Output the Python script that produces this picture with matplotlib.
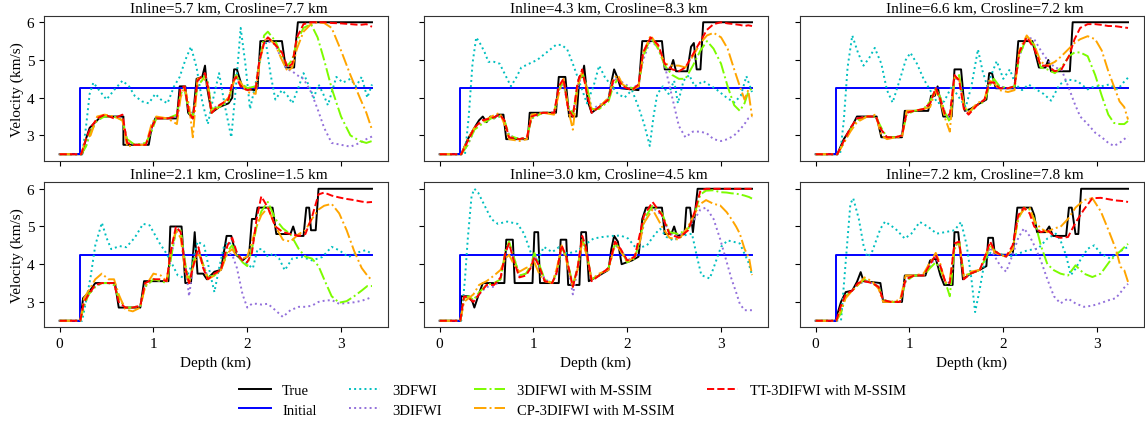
import matplotlib.pyplot as plt

plt.rcParams['font.family'] = ['Liberation Serif', 'DejaVu Serif']
plt.rcParams['font.size'] = 11
plt.rcParams['mathtext.fontset'] = 'stix'

titles = ['Inline=5.7 km, Crosline=7.7 km', 'Inline=4.3 km, Crosline=8.3 km',
          'Inline=6.6 km, Crosline=7.2 km', 'Inline=2.1 km, Crosline=1.5 km',
          'Inline=3.0 km, Crosline=4.5 km', 'Inline=7.2 km, Crosline=7.8 km']

# modelo inicial (igual en todas las trazas)
init_z = [0.0, 0.22, 0.22, 3.33]
init_v = [2.5, 2.5, 4.25, 4.25]

# ---------------- traza 1 ----------------
tz1 = [0, 0.24, 0.28, 0.32, 0.36, 0.42, 0.46, 0.68, 0.68, 0.95, 0.98, 1.02, 1.25, 1.28, 1.34, 1.37,
       1.42, 1.46, 1.52, 1.55, 1.57, 1.62, 1.70, 1.80, 1.84, 1.86, 1.89, 1.95, 2.08, 2.11, 2.14,
       2.37, 2.41, 2.50, 2.52, 2.54, 3.33]
tv1 = [2.5, 2.5, 2.9, 3.2, 3.3, 3.45, 3.5, 3.5, 2.75, 2.75, 3.2, 3.45, 3.45, 4.3, 4.3, 3.6,
       3.45, 4.5, 4.55, 4.85, 4.3, 3.6, 3.75, 3.85, 4.0, 4.75, 4.75, 4.25, 4.2, 4.25, 5.5,
       5.5, 4.8, 4.8, 5.5, 6.0, 6.0]
fz1 = [0, 0.24, 0.28, 0.32, 0.36, 0.42, 0.50, 0.58, 0.67, 0.74, 0.80, 0.88, 0.95, 1.02, 1.08,
       1.15, 1.22, 1.28, 1.34, 1.40, 1.46, 1.52, 1.58, 1.63, 1.70, 1.76, 1.83, 1.88, 1.93, 1.98,
       2.03, 2.10, 2.15, 2.20, 2.25, 2.30, 2.37, 2.43, 2.48, 2.55, 2.60, 2.66, 2.71, 2.76, 2.81,
       2.86, 2.95, 3.02, 3.10, 3.16, 3.22, 3.28, 3.33]
fwi1 = [2.5, 2.5, 3.2, 4.1, 4.4, 4.2, 3.95, 4.2, 4.45, 4.3, 4.05, 3.9, 3.85, 4.1, 3.95,
        3.85, 4.3, 4.55, 5.0, 5.35, 4.8, 3.9, 3.3, 3.9, 4.65, 3.8, 2.95, 4.3, 5.85, 4.9,
        3.7, 4.5, 5.3, 5.45, 4.6, 3.95, 4.2, 4.05, 3.85, 4.3, 4.65, 4.3, 4.0, 4.35, 4.1,
        3.8, 4.55, 4.4, 4.5, 4.3, 4.55, 4.0, 4.35]
z1 = [0.00, 0.23, 0.28, 0.33, 0.40, 0.48, 0.58, 0.67, 0.72, 0.80, 0.92, 0.98, 1.03, 1.15, 1.25,
      1.29, 1.33, 1.38, 1.42, 1.47, 1.53, 1.55, 1.58, 1.62, 1.70, 1.80, 1.84, 1.88, 1.93, 2.00,
      2.09, 2.13, 2.18, 2.22, 2.30, 2.37, 2.43, 2.48, 2.53, 2.60, 2.68, 2.75, 2.82, 2.90, 3.00,
      3.10, 3.20, 3.27, 3.33]
tt1 = [2.5, 2.5, 2.9, 3.2, 3.45, 3.55, 3.45, 3.55, 2.8, 2.75, 2.75, 3.2, 3.45, 3.45, 3.5,
       4.25, 4.3, 3.6, 3.45, 4.45, 4.6, 4.65, 4.3, 3.6, 3.8, 3.95, 4.4, 4.55, 4.3, 4.2,
       4.25, 5.0, 5.45, 5.6, 5.4, 5.2, 4.8, 4.9, 5.6, 5.95, 6.0, 6.0, 6.0, 5.98, 5.97,
       5.95, 5.93, 5.95, 5.88]
ms1 = [2.5, 2.5, 2.7, 3.1, 3.4, 3.5, 3.5, 3.4, 2.9, 2.75, 2.8, 3.1, 3.45, 3.45, 3.55,
       4.1, 4.25, 3.6, 3.5, 4.3, 4.5, 4.6, 4.4, 3.7, 3.75, 3.9, 4.3, 4.6, 4.4, 4.25,
       4.3, 4.9, 5.65, 5.75, 5.5, 5.1, 4.85, 5.0, 5.5, 5.85, 5.95, 5.6, 5.0, 4.25, 3.5,
       3.0, 2.85, 2.8, 2.85]
cp1 = [2.5, 2.5, 2.9, 3.0, 3.5, 3.55, 3.5, 3.4, 2.7, 2.75, 2.75, 3.3, 3.5, 3.45, 3.3,
       4.0, 4.3, 3.8, 2.95, 4.5, 4.55, 4.45, 4.3, 3.6, 3.75, 4.0, 4.3, 4.6, 4.4, 4.15,
       4.1, 4.9, 5.5, 5.6, 5.4, 5.0, 4.7, 4.8, 5.3, 5.75, 5.95, 6.0, 5.98, 5.85, 5.25,
       4.6, 4.0, 3.6, 3.15]
ifwi1 = [2.5, 2.5, 2.7, 3.1, 3.4, 3.5, 3.5, 3.45, 2.85, 2.75, 2.75, 3.2, 3.45, 3.45, 3.5,
         4.1, 4.25, 3.7, 3.5, 4.3, 4.5, 4.6, 4.4, 3.7, 3.8, 3.9, 4.3, 4.6, 4.35, 4.25,
         4.3, 4.9, 5.45, 5.5, 5.4, 5.0, 4.75, 4.7, 4.6, 4.5, 4.15, 3.7, 3.2, 2.8, 2.75,
         2.7, 2.8, 2.9, 2.97]

# ---------------- traza 2 ----------------
tz2 = [0, 0.23, 0.30, 0.37, 0.42, 0.46, 0.50, 0.54, 0.58, 0.62, 0.68, 0.71, 0.94, 0.96, 1.24,
       1.27, 1.34, 1.38, 1.46, 1.49, 1.52, 1.54, 1.58, 1.62, 1.70, 1.80, 1.83, 1.86, 1.90, 1.93,
       2.12, 2.16, 2.37, 2.40, 2.46, 2.49, 2.52, 2.64, 2.68, 2.71, 2.74, 2.78, 2.81, 3.33]
tv2 = [2.5, 2.5, 2.9, 3.2, 3.4, 3.5, 3.35, 3.5, 3.45, 3.55, 3.55, 2.9, 2.9, 3.6, 3.6,
       4.55, 4.55, 3.5, 3.5, 4.55, 4.55, 4.85, 3.9, 3.6, 3.75, 3.95, 4.4, 4.75, 4.5, 4.25,
       4.2, 5.5, 5.5, 4.75, 4.75, 5.0, 4.7, 4.7, 5.35, 5.45, 4.75, 4.75, 6.0, 6.0]
fz2 = [0, 0.27, 0.31, 0.35, 0.39, 0.44, 0.48, 0.52, 0.58, 0.64, 0.70, 0.76, 0.82, 0.87, 0.97,
       1.04, 1.14, 1.24, 1.30, 1.36, 1.42, 1.47, 1.52, 1.57, 1.64, 1.70, 1.76, 1.82, 1.90, 1.97,
       2.05, 2.12, 2.18, 2.24, 2.28, 2.32, 2.38, 2.44, 2.50, 2.54, 2.60, 2.66, 2.72, 2.81, 2.95,
       3.06, 3.14, 3.21, 3.27, 3.33]
fwi2 = [2.5, 2.5, 3.5, 4.9, 5.6, 5.4, 5.2, 4.95, 4.95, 4.9, 4.6, 4.3, 4.55, 4.8, 4.92,
        5.0, 5.2, 5.4, 5.4, 5.28, 4.9, 4.55, 4.2, 3.85, 4.3, 4.85, 4.55, 4.35, 4.1, 4.0,
        4.2, 3.75, 3.3, 2.72, 3.5, 4.1, 4.3, 4.1, 4.45, 3.85, 4.45, 4.6, 4.3, 4.44, 4.22,
        4.0, 3.87, 4.05, 4.57, 4.15]
z2 = [0.00, 0.23, 0.30, 0.37, 0.45, 0.55, 0.64, 0.69, 0.74, 0.85, 0.93, 0.98, 1.10, 1.22, 1.27,
      1.32, 1.37, 1.42, 1.47, 1.52, 1.57, 1.62, 1.70, 1.80, 1.85, 1.90, 1.95, 2.05, 2.12, 2.17,
      2.25, 2.33, 2.40, 2.48, 2.55, 2.62, 2.70, 2.78, 2.85, 2.92, 3.00, 3.07, 3.14, 3.20, 3.25,
      3.29, 3.33]
tt2 = [2.5, 2.5, 2.85, 3.2, 3.4, 3.45, 3.55, 3.4, 2.95, 2.9, 2.95, 3.5, 3.6, 3.6, 4.3,
       4.5, 3.7, 3.5, 4.4, 4.75, 4.1, 3.6, 3.75, 3.95, 4.45, 4.5, 4.3, 4.2, 4.35, 5.2,
       5.6, 5.4, 4.9, 4.75, 4.7, 4.8, 5.15, 5.5, 5.8, 5.95, 6.0, 5.97, 5.95, 5.93, 5.9,
       5.92, 5.9]
ms2 = [2.5, 2.5, 2.75, 3.15, 3.3, 3.45, 3.5, 3.4, 3.0, 2.9, 2.95, 3.45, 3.6, 3.6, 4.2,
       4.45, 3.8, 3.55, 4.3, 4.65, 4.3, 3.7, 3.7, 3.9, 4.3, 4.5, 4.35, 4.25, 4.3, 5.1,
       5.6, 5.3, 4.85, 4.6, 4.5, 4.5, 4.85, 5.25, 5.5, 5.3, 4.9, 4.3, 3.8, 3.65, 3.85,
       4.15, 4.25]
cp2 = [2.5, 2.5, 2.9, 3.2, 3.35, 3.5, 3.6, 3.3, 2.9, 2.85, 2.9, 3.55, 3.6, 3.55, 4.1,
       4.5, 3.7, 3.15, 4.3, 4.7, 4.2, 3.65, 3.75, 4.0, 4.5, 4.6, 4.35, 4.2, 4.3, 5.2,
       5.65, 5.35, 4.9, 4.85, 4.85, 4.8, 5.1, 5.45, 5.65, 5.72, 5.6, 5.3, 4.75, 4.3, 3.95,
       4.2, 3.5]
ifwi2 = [2.5, 2.5, 2.75, 3.15, 3.35, 3.45, 3.5, 3.4, 3.0, 2.9, 2.95, 3.45, 3.6, 3.6, 4.2,
         4.4, 3.7, 3.55, 4.3, 4.6, 4.3, 3.7, 3.8, 3.95, 4.4, 4.55, 4.4, 4.25, 4.35, 5.0,
         5.55, 5.3, 4.85, 4.0, 3.25, 2.95, 3.1, 3.1, 3.05, 2.9, 2.85, 2.9, 3.0, 3.15, 3.3,
         3.45, 3.5]

# ---------------- traza 3 ----------------
tz3 = [0, 0.23, 0.30, 0.39, 0.44, 0.65, 0.70, 0.92, 0.95, 1.20, 1.23, 1.27, 1.30, 1.36, 1.45,
       1.48, 1.55, 1.59, 1.65, 1.75, 1.82, 1.85, 1.88, 1.92, 2.12, 2.16, 2.31, 2.38, 2.45, 2.48,
       2.51, 2.71, 2.74, 3.33]
tv3 = [2.5, 2.5, 2.9, 3.25, 3.5, 3.5, 2.95, 2.95, 3.65, 3.65, 4.05, 4.05, 4.3, 3.5, 3.5,
       4.75, 4.75, 3.65, 3.7, 3.85, 3.95, 4.65, 4.65, 4.25, 4.25, 5.5, 5.5, 4.8, 4.8, 5.0,
       4.7, 4.7, 6.0, 6.0]
fz3 = [0, 0.26, 0.30, 0.34, 0.39, 0.45, 0.51, 0.57, 0.63, 0.70, 0.76, 0.82, 0.90, 0.96, 1.01,
       1.08, 1.15, 1.22, 1.30, 1.37, 1.45, 1.53, 1.60, 1.66, 1.73, 1.78, 1.83, 1.88, 1.93, 2.00,
       2.07, 2.13, 2.20, 2.27, 2.35, 2.43, 2.51, 2.60, 2.69, 2.79, 2.90, 2.97, 3.04, 3.13, 3.22,
       3.28, 3.33]
fwi3 = [2.5, 2.5, 3.4, 4.8, 5.65, 5.2, 4.85, 5.05, 5.32, 4.9, 4.2, 3.87, 4.5, 5.0, 5.19,
        4.9, 4.5, 4.2, 3.85, 3.9, 4.3, 4.0, 3.75, 4.3, 5.28, 4.7, 4.3, 4.65, 4.97, 4.5,
        4.75, 4.35, 4.2, 4.35, 4.22, 4.1, 3.92, 4.35, 4.48, 4.44, 4.22, 4.3, 4.3, 4.35, 4.22,
        4.4, 4.53]
z3 = [0.00, 0.23, 0.30, 0.37, 0.44, 0.55, 0.64, 0.70, 0.76, 0.85, 0.92, 0.97, 1.05, 1.15, 1.22,
      1.28, 1.33, 1.38, 1.43, 1.48, 1.53, 1.58, 1.63, 1.72, 1.80, 1.85, 1.90, 1.96, 2.05, 2.12,
      2.17, 2.25, 2.33, 2.40, 2.47, 2.55, 2.62, 2.70, 2.76, 2.82, 2.90, 2.98, 3.05, 3.12, 3.18,
      3.24, 3.29, 3.33]
tt3 = [2.5, 2.5, 2.85, 3.2, 3.45, 3.5, 3.5, 3.15, 2.95, 2.95, 3.0, 3.6, 3.65, 3.7, 3.85,
       4.25, 3.95, 3.55, 3.55, 4.6, 4.45, 3.7, 3.55, 3.8, 3.95, 4.4, 4.4, 4.25, 4.25, 4.3,
       5.2, 5.6, 5.3, 4.85, 4.85, 4.7, 4.75, 5.1, 5.55, 5.85, 5.95, 5.95, 5.93, 5.9, 5.9,
       5.88, 5.86, 5.85]
ms3 = [2.5, 2.5, 2.8, 3.15, 3.4, 3.5, 3.5, 3.2, 2.95, 2.95, 3.0, 3.55, 3.65, 3.7, 3.9,
       4.25, 4.0, 3.6, 3.35, 4.5, 4.6, 3.8, 3.6, 3.8, 3.9, 4.3, 4.5, 4.3, 4.25, 4.3,
       5.1, 5.6, 5.4, 4.8, 4.75, 4.65, 4.8, 5.1, 5.2, 5.2, 5.1, 4.6, 4.05, 3.55, 3.33,
       3.3, 3.3, 3.38]
cp3 = [2.5, 2.5, 2.8, 3.1, 3.35, 3.5, 3.55, 3.0, 2.9, 2.95, 2.95, 3.65, 3.65, 3.7, 3.75,
       4.2, 3.9, 3.45, 3.1, 4.55, 4.5, 3.8, 3.6, 3.85, 3.95, 4.45, 4.4, 4.2, 4.15, 4.2,
       5.25, 5.65, 5.4, 4.95, 4.85, 4.95, 5.1, 5.3, 5.45, 5.55, 5.63, 5.55, 5.25, 4.7, 4.3,
       3.9, 3.75, 3.42]
ifwi3 = [2.5, 2.5, 2.8, 3.15, 3.45, 3.5, 3.5, 3.15, 2.95, 2.95, 3.0, 3.6, 3.65, 3.7, 3.85,
         4.25, 4.0, 3.55, 3.5, 4.5, 4.5, 3.75, 3.6, 3.8, 3.95, 4.35, 4.45, 4.3, 4.25, 4.3,
         5.1, 5.6, 5.55, 5.25, 5.0, 4.8, 4.75, 4.25, 3.85, 3.5, 3.3, 3.07, 2.95, 2.8, 2.72,
         2.8, 2.9, 2.98]

# ---------------- traza 4 ----------------
tz4 = [0, 0.22, 0.25, 0.31, 0.38, 0.59, 0.63, 0.86, 0.90, 1.16, 1.18, 1.30, 1.34, 1.40, 1.44,
       1.47, 1.53, 1.57, 1.65, 1.72, 1.78, 1.83, 1.88, 1.95, 2.02, 2.05, 2.09, 2.11, 2.27, 2.31,
       2.46, 2.49, 2.52, 2.60, 2.63, 2.66, 2.68, 2.73, 2.76, 3.33]
tv4 = [2.5, 2.5, 3.1, 3.25, 3.5, 3.5, 2.85, 2.85, 3.55, 3.55, 5.0, 5.0, 3.5, 3.5, 4.85,
       3.75, 3.75, 3.6, 3.8, 3.85, 4.75, 4.75, 4.25, 4.1, 4.25, 5.2, 5.2, 5.5, 5.5, 4.8,
       4.8, 5.0, 4.75, 4.75, 5.5, 5.5, 4.9, 4.9, 6.0, 6.0]
fz4 = [0, 0.24, 0.28, 0.33, 0.38, 0.45, 0.50, 0.55, 0.64, 0.71, 0.80, 0.89, 0.96, 1.07, 1.14,
       1.20, 1.26, 1.35, 1.41, 1.47, 1.54, 1.60, 1.65, 1.70, 1.75, 1.80, 1.88, 1.95, 2.06, 2.11,
       2.16, 2.22, 2.28, 2.34, 2.40, 2.48, 2.59, 2.69, 2.80, 2.90, 2.98, 3.08, 3.19, 3.26, 3.33]
fwi4 = [2.5, 2.5, 3.0, 3.66, 4.5, 5.1, 4.7, 4.4, 4.48, 4.45, 4.7, 5.07, 5.03, 4.54, 4.28,
        4.0, 3.7, 3.62, 4.0, 4.6, 4.5, 3.8, 3.26, 3.9, 4.45, 4.6, 4.35, 4.1, 3.89, 4.4,
        4.4, 4.2, 4.28, 4.15, 3.84, 4.15, 4.19, 4.1, 4.19, 4.46, 4.37, 4.19, 4.32, 4.37, 4.28]
z4 = [0.00, 0.22, 0.26, 0.31, 0.38, 0.45, 0.52, 0.58, 0.63, 0.70, 0.78, 0.86, 0.91, 1.00, 1.08,
      1.14, 1.19, 1.24, 1.29, 1.34, 1.38, 1.43, 1.48, 1.53, 1.58, 1.65, 1.72, 1.79, 1.84, 1.89,
      1.95, 2.00, 2.05, 2.10, 2.15, 2.22, 2.30, 2.38, 2.46, 2.55, 2.62, 2.69, 2.76, 2.82, 2.90,
      2.98, 3.06, 3.14, 3.22, 3.28, 3.33]
tt4 = [2.5, 2.5, 3.0, 3.2, 3.45, 3.5, 3.5, 3.5, 3.0, 2.85, 2.85, 2.9, 3.5, 3.6, 3.6,
       3.55, 4.4, 5.0, 4.85, 3.9, 3.5, 4.0, 4.45, 3.9, 3.6, 3.75, 3.85, 4.5, 4.7, 4.3,
       4.1, 4.05, 4.3, 5.2, 5.8, 5.5, 5.0, 4.85, 4.8, 4.75, 4.8, 5.25, 5.85, 5.9, 5.82,
       5.77, 5.73, 5.7, 5.66, 5.64, 5.65]
ms4 = [2.5, 2.5, 2.9, 3.2, 3.4, 3.5, 3.5, 3.45, 3.1, 2.85, 2.85, 2.9, 3.4, 3.6, 3.55,
       3.5, 4.2, 4.9, 4.9, 4.0, 3.55, 4.1, 4.35, 4.0, 3.65, 3.7, 3.85, 4.35, 4.5, 4.25,
       4.05, 3.95, 4.4, 5.0, 5.4, 5.65, 5.2, 4.95, 4.8, 4.4, 4.2, 4.15, 3.95, 3.6, 3.15,
       2.98, 3.02, 3.15, 3.3, 3.42, 3.42]
cp4 = [2.5, 2.5, 3.1, 3.3, 3.6, 3.75, 3.6, 3.6, 3.2, 2.8, 2.75, 2.85, 3.4, 3.75, 3.7,
       3.55, 4.45, 4.9, 4.7, 3.8, 3.5, 4.0, 4.3, 3.95, 3.6, 3.7, 3.85, 4.3, 4.4, 4.2,
       4.15, 4.2, 4.6, 5.0, 5.3, 5.5, 5.0, 4.65, 4.6, 4.8, 4.9, 5.2, 5.45, 5.55, 5.6,
       5.35, 4.9, 4.35, 3.9, 3.7, 3.57]
ifwi4 = [2.5, 2.5, 2.9, 3.2, 3.4, 3.5, 3.5, 3.45, 3.1, 2.85, 2.85, 2.9, 3.4, 3.6, 3.55,
         3.55, 4.2, 4.9, 4.9, 4.0, 3.15, 4.1, 4.35, 4.0, 3.65, 3.7, 3.85, 4.3, 4.25, 3.9,
         3.2, 2.85, 2.95, 2.95, 2.93, 2.95, 2.78, 2.6, 2.78, 2.87, 2.87, 2.9, 3.0, 3.03, 3.05,
         2.95, 2.97, 2.99, 3.03, 3.08, 3.13]

# ---------------- traza 5 ----------------
tz5 = [0, 0.22, 0.23, 0.31, 0.35, 0.37, 0.41, 0.46, 0.69, 0.71, 0.78, 0.80, 0.99, 1.01, 1.05,
       1.07, 1.27, 1.29, 1.35, 1.37, 1.49, 1.51, 1.56, 1.59, 1.70, 1.80, 1.83, 1.86, 1.90, 1.94,
       2.05, 2.12, 2.16, 2.20, 2.37, 2.40, 2.47, 2.50, 2.53, 2.61, 2.63, 2.67, 2.70, 2.75, 3.33]
tv5 = [2.5, 2.5, 3.15, 3.15, 3.0, 2.85, 3.15, 3.5, 3.5, 4.65, 4.65, 3.5, 3.5, 4.85, 4.85,
       3.5, 3.5, 4.65, 4.65, 3.45, 3.45, 4.85, 4.85, 3.55, 3.7, 3.85, 4.4, 4.75, 4.6, 4.0,
       4.1, 4.2, 5.2, 5.5, 5.5, 4.8, 4.8, 5.0, 4.75, 4.8, 5.5, 5.5, 4.85, 6.0, 6.0]
fz5 = [0, 0.23, 0.27, 0.30, 0.34, 0.37, 0.41, 0.46, 0.55, 0.62, 0.72, 0.83, 0.90, 0.97, 1.04,
       1.11, 1.20, 1.27, 1.36, 1.47, 1.54, 1.64, 1.73, 1.84, 1.93, 2.01, 2.10, 2.21, 2.30, 2.35,
       2.42, 2.49, 2.60, 2.69, 2.74, 2.79, 2.88, 2.93, 3.00, 3.07, 3.14, 3.20, 3.29, 3.33]
fwi5 = [2.5, 2.5, 3.62, 4.68, 5.8, 6.0, 5.9, 5.65, 5.2, 5.07, 5.13, 5.07, 4.81, 4.32, 4.06,
        4.46, 4.32, 4.45, 4.28, 4.35, 4.5, 4.68, 4.72, 4.75, 4.76, 4.68, 4.41, 4.5, 4.81, 4.94,
        4.72, 4.63, 4.76, 4.81, 4.23, 3.71, 3.62, 3.97, 4.46, 4.63, 4.59, 4.55, 4.06, 3.71]
z5 = [0.00, 0.22, 0.26, 0.31, 0.36, 0.42, 0.50, 0.58, 0.65, 0.70, 0.74, 0.79, 0.85, 0.92, 0.97,
      1.01, 1.06, 1.12, 1.20, 1.25, 1.30, 1.35, 1.42, 1.47, 1.52, 1.56, 1.62, 1.70, 1.80, 1.87,
      1.93, 2.00, 2.08, 2.13, 2.18, 2.27, 2.37, 2.45, 2.55, 2.65, 2.72, 2.78, 2.84, 2.92, 2.99,
      3.06, 3.11, 3.16, 3.20, 3.25, 3.30, 3.33]
tt5 = [2.5, 2.5, 3.15, 3.1, 3.0, 3.2, 3.45, 3.45, 3.65, 4.3, 4.55, 4.1, 3.65, 3.7, 3.9,
       4.2, 3.95, 3.55, 3.5, 3.8, 4.5, 4.2, 3.4, 3.9, 4.75, 4.45, 3.55, 3.7, 3.9, 4.6,
       4.4, 4.1, 4.2, 4.75, 5.3, 5.65, 5.3, 4.8, 4.7, 4.9, 5.4, 5.95, 6.0, 6.0, 6.0,
       6.0, 6.0, 6.0, 6.0, 6.0, 6.0, 6.0]
ms5 = [2.5, 2.5, 3.1, 3.15, 3.05, 3.25, 3.45, 3.5, 3.6, 4.35, 4.6, 4.2, 3.7, 3.75, 3.95,
       4.3, 4.0, 3.6, 3.5, 3.8, 4.45, 4.2, 3.45, 3.9, 4.65, 4.4, 3.6, 3.7, 3.9, 4.55,
       4.4, 4.05, 4.15, 4.6, 5.2, 5.55, 5.35, 4.85, 4.8, 4.95, 5.35, 5.85, 5.95, 5.96, 5.91,
       5.9, 5.88, 5.87, 5.85, 5.82, 5.78, 5.74]
cp5 = [2.5, 2.5, 3.0, 3.1, 3.2, 3.45, 3.55, 3.7, 3.85, 4.15, 4.25, 4.0, 3.8, 3.9, 3.95,
       4.05, 3.75, 3.55, 3.5, 3.9, 4.5, 4.1, 3.4, 3.85, 4.6, 4.3, 3.6, 3.75, 3.85, 4.55,
       4.35, 4.05, 4.2, 4.55, 5.1, 5.45, 5.0, 4.7, 4.65, 5.0, 5.35, 5.6, 5.7, 5.6, 5.56,
       5.38, 5.2, 5.0, 4.81, 4.41, 4.15, 3.71]
ifwi5 = [2.5, 2.5, 3.1, 3.1, 3.05, 3.2, 3.4, 3.4, 3.6, 4.3, 4.55, 4.2, 3.7, 3.75, 3.9,
         4.25, 3.95, 3.6, 3.5, 3.75, 4.4, 4.2, 3.2, 3.85, 4.6, 4.4, 3.6, 3.7, 3.9, 4.5,
         4.4, 4.1, 4.2, 4.5, 5.1, 5.5, 5.3, 4.8, 4.75, 4.95, 5.2, 5.45, 5.5, 5.2, 4.67,
         4.06, 3.62, 3.26, 2.95, 2.78, 2.78, 2.78]

# ---------------- traza 6 ----------------
tz6 = [0, 0.21, 0.27, 0.32, 0.39, 0.44, 0.48, 0.51, 0.69, 0.72, 0.92, 0.95, 1.17, 1.22, 1.28,
       1.33, 1.37, 1.46, 1.48, 1.52, 1.57, 1.65, 1.75, 1.82, 1.84, 1.89, 1.91, 2.10, 2.15, 2.30,
       2.33, 2.36, 2.45, 2.49, 2.53, 2.67, 2.70, 2.73, 2.77, 2.80, 2.83, 3.33]
tv6 = [2.5, 2.5, 3.0, 3.26, 3.3, 3.53, 3.79, 3.55, 3.5, 3.0, 3.0, 3.7, 3.7, 4.1, 4.15,
       3.7, 3.45, 3.45, 4.85, 4.85, 3.6, 3.75, 3.85, 3.95, 4.7, 4.7, 4.25, 4.25, 5.5, 5.5,
       5.3, 4.85, 4.85, 5.0, 4.75, 4.75, 5.5, 5.5, 4.8, 4.8, 6.0, 6.0]
fz6 = [0, 0.27, 0.32, 0.37, 0.40, 0.46, 0.51, 0.55, 0.60, 0.69, 0.74, 0.85, 0.95, 1.02, 1.11,
       1.20, 1.29, 1.38, 1.48, 1.55, 1.61, 1.66, 1.70, 1.75, 1.80, 1.89, 1.94, 2.05, 2.16, 2.26,
       2.37, 2.47, 2.56, 2.61, 2.67, 2.72, 2.77, 2.83, 2.90, 2.97, 3.04, 3.14, 3.23, 3.33]
fwi6 = [2.5, 2.5, 4.06, 5.6, 5.75, 5.2, 4.5, 4.19, 4.32, 4.94, 5.13, 4.94, 4.68, 4.81, 5.12,
        4.99, 4.81, 4.85, 4.9, 5.12, 4.5, 3.62, 2.73, 3.35, 4.06, 4.41, 4.3, 4.19, 4.28, 4.37,
        4.41, 4.68, 4.81, 4.63, 4.23, 3.71, 3.88, 4.15, 4.41, 4.5, 4.28, 4.15, 4.32, 4.46]
z6 = [0.00, 0.22, 0.27, 0.32, 0.39, 0.45, 0.52, 0.60, 0.67, 0.72, 0.80, 0.90, 0.96, 1.05, 1.15,
      1.22, 1.28, 1.33, 1.38, 1.43, 1.48, 1.53, 1.58, 1.65, 1.75, 1.82, 1.86, 1.91, 1.97, 2.03,
      2.10, 2.16, 2.22, 2.28, 2.33, 2.40, 2.47, 2.54, 2.61, 2.69, 2.77, 2.86, 2.95, 3.04, 3.13,
      3.20, 3.25, 3.29, 3.33]
tt6 = [2.5, 2.5, 2.9, 3.2, 3.3, 3.5, 3.55, 3.5, 3.4, 3.05, 3.0, 3.0, 3.6, 3.7, 3.7,
       4.0, 4.25, 3.95, 3.55, 3.5, 4.55, 4.6, 3.6, 3.75, 3.85, 4.3, 4.6, 4.35, 4.25, 4.2,
       4.5, 5.3, 5.5, 5.35, 5.0, 4.85, 4.9, 4.75, 4.7, 4.72, 5.1, 5.45, 5.75, 5.76, 5.72,
       5.69, 5.68, 5.67, 5.65]
ms6 = [2.5, 2.5, 2.7, 3.15, 3.3, 3.45, 3.6, 3.5, 3.4, 3.05, 3.0, 3.0, 3.55, 3.7, 3.7,
       3.9, 4.05, 3.85, 3.55, 3.15, 4.4, 4.6, 3.7, 3.75, 3.85, 4.2, 4.5, 4.35, 4.25, 4.2,
       4.4, 5.2, 5.5, 5.45, 5.2, 4.5, 4.0, 3.84, 3.75, 3.7, 3.97, 3.75, 3.66, 3.75, 4.06,
       4.25, 4.35, 4.45, 4.54]
cp6 = [2.5, 2.5, 2.8, 3.1, 3.3, 3.45, 3.65, 3.55, 3.35, 3.0, 3.0, 3.05, 3.7, 3.7, 3.75,
       4.05, 4.3, 4.0, 3.5, 3.6, 4.5, 4.55, 3.65, 3.8, 3.85, 4.3, 4.55, 4.3, 4.25, 4.2,
       4.4, 5.25, 5.45, 5.5, 5.15, 4.95, 4.85, 4.95, 4.99, 5.2, 5.5, 5.7, 5.75, 5.4, 4.85,
       4.4, 3.93, 3.84, 3.53]
ifwi6 = [2.5, 2.5, 2.75, 3.15, 3.3, 3.45, 3.55, 3.5, 3.45, 3.05, 3.0, 3.0, 3.55, 3.7, 3.7,
         3.95, 4.2, 3.9, 3.55, 3.5, 4.5, 4.55, 3.65, 3.75, 3.85, 4.2, 4.45, 4.2, 3.95, 3.8,
         4.25, 4.7, 4.95, 4.75, 4.5, 4.1, 3.6, 3.15, 2.96, 3.09, 2.96, 2.87, 2.9, 2.97, 3.05,
         3.1, 3.25, 3.38, 3.48]

trazas = [
    (tz1, tv1, fz1, fwi1, z1, ifwi1, ms1, cp1, tt1),
    (tz2, tv2, fz2, fwi2, z2, ifwi2, ms2, cp2, tt2),
    (tz3, tv3, fz3, fwi3, z3, ifwi3, ms3, cp3, tt3),
    (tz4, tv4, fz4, fwi4, z4, ifwi4, ms4, cp4, tt4),
    (tz5, tv5, fz5, fwi5, z5, ifwi5, ms5, cp5, tt5),
    (tz6, tv6, fz6, fwi6, z6, ifwi6, ms6, cp6, tt6),
]

fig = plt.figure(figsize=(11.45, 4.27), dpi=100)
lefts = [0.0384, 0.3703, 0.6987]
bottoms = [0.621, 0.231]
lw = 1.4

for i, (tz, tv, fz, fwi, z, ifwi, ms, cp, tt) in enumerate(trazas):
    fila, col = divmod(i, 3)
    ax = fig.add_axes([lefts[col], bottoms[fila], 0.3004, 0.340])
    ax.plot(tz, tv, color='k', lw=lw, label='True')
    ax.plot(init_z, init_v, color='b', lw=lw, label='Initial')
    ax.plot(fz, fwi, color='c', ls=':', lw=lw, label='3DFWI')
    ax.plot(z, ifwi, color='mediumpurple', ls=':', lw=lw, label='3DIFWI')
    ax.plot(z, ms, color='lawngreen', ls='-.', lw=lw, label='3DIFWI with M-SSIM')
    ax.plot(z, cp, color='orange', ls='-.', lw=lw, label='CP-3DIFWI with M-SSIM')
    ax.plot(z, tt, color='r', ls='--', lw=lw, label='TT-3DIFWI with M-SSIM')

    ax.set_xlim(-0.167, 3.5)
    ax.set_ylim(2.325, 6.175)
    ax.set_xticks([0, 1, 2, 3])
    ax.set_yticks([3, 4, 5, 6])
    ax.tick_params(labelbottom=(fila == 1), labelleft=(col == 0))
    ax.set_title(titles[i], fontsize=11, pad=3.5, x=0.538)
    for s in ax.spines.values():
        s.set_color('#333333')
    if col == 0:
        ax.set_ylabel('Velocity (km/s)', labelpad=2)
    if fila == 1:
        ax.set_xlabel('Depth (km)')
    if i == 0:
        handles, labels = ax.get_legend_handles_labels()

fig.legend(handles, labels, loc='center', bbox_to_anchor=(0.500, 0.060), ncol=4,
           frameon=False, fontsize=10.5, handlelength=2.17, handletextpad=0.8,
           columnspacing=2.2, labelspacing=0.4)

plt.savefig('out.png', dpi=100)
